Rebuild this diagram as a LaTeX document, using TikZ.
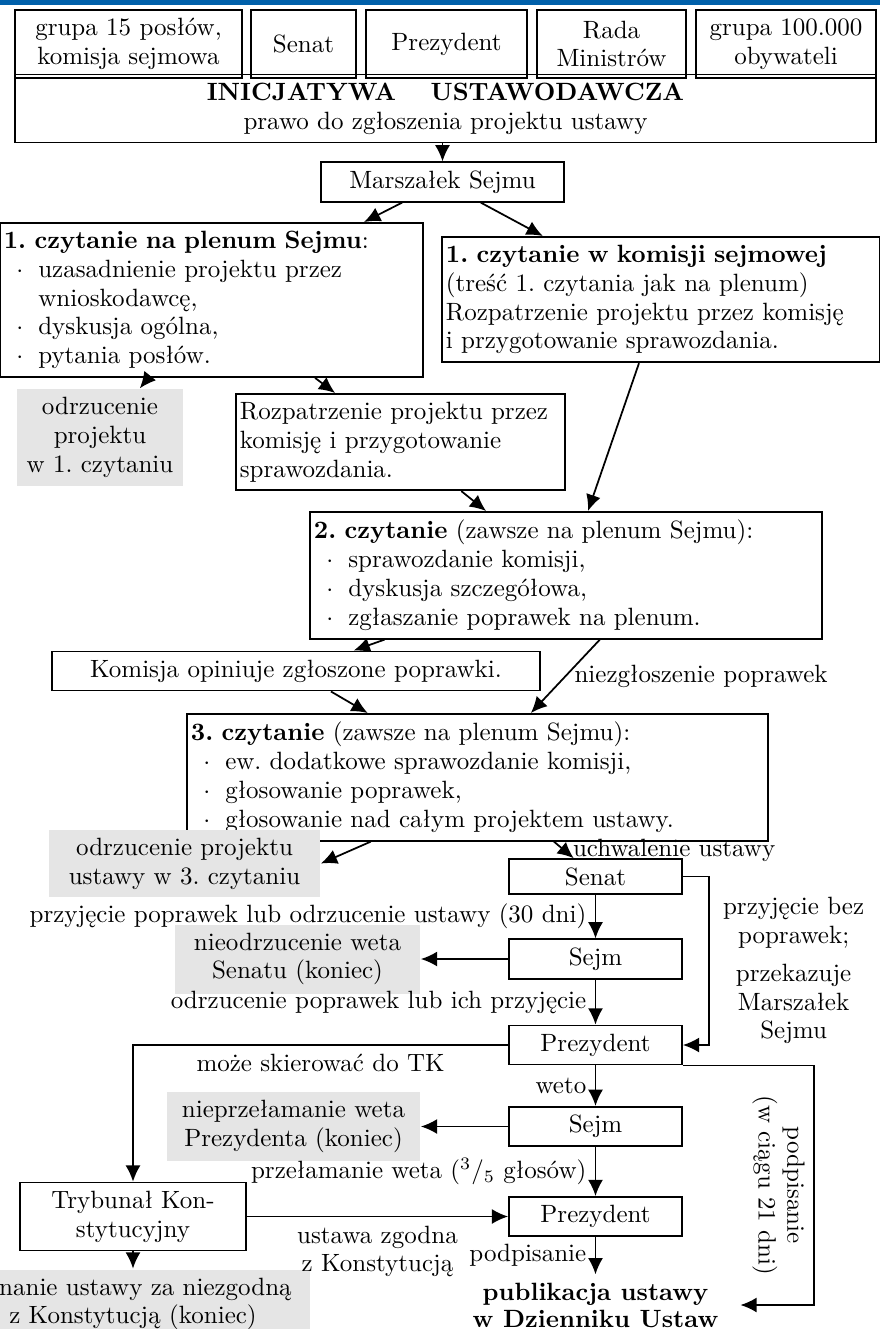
\documentclass[tikz,border=0pt]{standalone}
\usepackage{tikz}
\usetikzlibrary{positioning,%
  arrows.meta,%
  calc%
}
\definecolor{pasek}{RGB}{0,96,170}
\newcommand{\pu}{*0.4pt}
\newcommand{\pkt}{\hspace*{5pt}$\cdot$\hspace{6pt}}
\newcommand{\wc}{\hspace*{13.8pt}}
\frenchspacing

\begin{document}
\begin{tikzpicture}
                    [x=0.4pt, y=-0.4pt,
                    font=\fontsize{10}{11.5}\selectfont,
                    blk/.style={rectangle,
                        draw, align=center,
                        minimum height=29\pu},
                    lst/.style={rectangle,
                        draw, align=left,
                        anchor=north west,
                        inner xsep=1.6pt},
                    fin/.style={rectangle,
                        fill=gray!20, align=center},
                    line width=.7pt, >={Latex[length=6.5pt,width=6pt]}]

                    \useasboundingbox (0,0) rectangle (880,1329);
                    \fill[pasek] (0,0) rectangle (880,5);

                    \node[blk, minimum width=227\pu, minimum height=68\pu] (g15)
                        at (128.5,44) {grupa 15 posłów,\\komisja sejmowa};
                    \node[blk, minimum width=105\pu, minimum height=68\pu] (sen0)
                        at (303.5,44) {Senat};
                    \node[blk, minimum width=161\pu, minimum height=68\pu] (prez0)
                        at (446.5,44) {Prezydent};
                    \node[blk, minimum width=149\pu, minimum height=68\pu] (rada)
                        at (611.5,44) {Rada\\Ministrów};
                    \node[blk, minimum width=180\pu, minimum height=68\pu] (g100)
                        at (786,44) {grupa 100.000\\obywateli};
                    \node[blk, minimum width=861\pu, minimum height=61\pu] (inic)
                        at (445.5,108.5) {\textbf{INICJATYWA\quad\ USTAWODAWCZA}\\prawo do zgłoszenia projektu ustawy};
                    \node[blk, minimum width=243\pu, minimum height=30\pu] (marsz)
                        at (442.5,182) {Marszałek Sejmu};

                    \node[lst, text width=166pt, minimum height=146\pu] (plen)
                        at (-1,222) {\textbf{1. czytanie na plenum Sejmu}:\\
                        \pkt uzasadnienie projektu przez\\
                        \wc wnioskodawcę,\\
                        \pkt dyskusja ogólna,\\
                        \pkt pytania posłów.};
                    \node[lst, text width=172pt, minimum height=118\pu] (kom)
                        at (441,236) {\textbf{1. czytanie w komisji sejmowej}\\
                        (treść 1. czytania jak na plenum)\\
                        Rozpatrzenie projektu przez komisję\\
                        i przygotowanie sprawozdania.};
                    \node[fin, minimum width=166\pu, minimum height=89\pu] (odrz1)
                        at (100,437.5) {odrzucenie\\projektu\\w 1. czytaniu};
                    \node[lst, text width=128.4pt, minimum height=90\pu] (rozp)
                        at (235,393) {Rozpatrzenie projektu przez\\
                        komisję i przygotowanie\\
                        sprawozdania.};
                    \node[lst, text width=201.6pt, minimum height=119\pu] (czyt2)
                        at (309,511) {\textbf{2. czytanie} (zawsze na plenum Sejmu):\\
                        \pkt sprawozdanie komisji,\\
                        \pkt dyskusja szczegółowa,\\
                        \pkt zgłaszanie poprawek na plenum.};
                    \node[blk, minimum width=488\pu, minimum height=30\pu] (komop)
                        at (296,671) {Komisja opiniuje zgłoszone poprawki.};
                    \node[lst, text width=229.2pt, minimum height=119\pu] (czyt3)
                        at (186,713) {\textbf{3. czytanie} (zawsze na plenum Sejmu):\\
                        \pkt ew. dodatkowe sprawozdanie komisji,\\
                        \pkt głosowanie poprawek,\\
                        \pkt głosowanie nad całym projektem ustawy.};
                    \node[fin, minimum width=271\pu, minimum height=57\pu] (odrz3)
                        at (184.5,863.5) {odrzucenie projektu\\ustawy w 3. czytaniu};

                    \node[blk, minimum width=173\pu] (senat)
                        at (595.5,876.5) {Senat};
                    \node[blk, minimum width=173\pu] (sejm1)
                        at (595.5,959) {Sejm};
                    \node[fin, minimum width=245\pu, minimum height=58\pu] (nieodrz)
                        at (297.5,959) {nieodrzucenie weta\\Senatu (koniec)};
                    \node[blk, minimum width=173\pu] (prez1)
                        at (595.5,1045) {Prezydent};
                    \node[blk, minimum width=173\pu] (sejm2)
                        at (595.5,1126.5) {Sejm};
                    \node[fin, minimum width=253\pu, minimum height=59\pu] (nieprz)
                        at (293.5,1126.5) {nieprzełamanie weta\\Prezydenta (koniec)};
                    \node[blk, minimum width=173\pu] (prez2)
                        at (595.5,1216.5) {Prezydent};
                    \node[blk, minimum width=226\pu, minimum height=59\pu] (tk)
                        at (133,1216.5) {Trybunał Kon-\\stytucyjny};
                    \node[fin, minimum width=354\pu, minimum height=62\pu] (uzn)
                        at (133,1304) {uznanie ustawy za niezgodną\\z Konstytucją (koniec)};
                    \node[font=\fontsize{10}{10.8}\selectfont\bfseries, align=center,
                        inner xsep=8.5pt, inner ysep=3pt] (publ)
                        at (595.5,1305) {publikacja ustawy\\w Dzienniku Ustaw};

                    \path[->]
                        (inic.south -| marsz) edge (marsz)
                        (marsz) edge (plen)
                        (marsz) edge (kom)
                        (plen)  edge (odrz1)
                        (plen)  edge (rozp)
                        (rozp)  edge (czyt2)
                        (kom)   edge (czyt2)
                        (czyt2) edge (komop)
                        (komop) edge (czyt3)
                        (czyt3) edge node[right] {uchwalenie ustawy} (senat)
                        (senat) edge node[left] {przyjęcie poprawek lub odrzucenie ustawy (30 dni)} (sejm1)
                        (sejm1) edge (nieodrz)
                        (sejm1) edge node[left] {odrzucenie poprawek lub ich przyjęcie} (prez1)
                        (prez1) edge node[left] {weto} (sejm2)
                        (sejm2) edge (nieprz)
                        (sejm2) edge node[left] {przełamanie weta (\textsuperscript{3}/\textsubscript{5} głosów)} (prez2)
                        (tk)    edge node[below, align=center] {ustawa zgodna\\z Konstytucją} (prez2)
                        (tk)    edge (uzn)
                        (prez2) edge node[left] {podpisanie} (publ);

                    \draw[->]
                        ($(czyt2.south)+(34,0)$) -- node[right] {niezgłoszenie poprawek}
                        ($(czyt3.north)+(53.5,0)$);
                    \draw[->]
                        ($(czyt3.south)+(-106.5,0)$) -- (odrz3.east);
                    \draw[->]
                        (senat.east) -- ++(26,0)
                            |- node[right=2pt, pos=.28, align=center]
                            {przyjęcie bez\\poprawek;\\[3.6pt]przekazuje\\Marszałek\\Sejmu} (prez1.east);
                    \draw[->]
                        (prez1.west) -| node[below, pos=.25] {może skierować do TK} (tk.north);
                    \draw[->]
                        (prez1.south east) -- ++(131,0)
                            |- node[anchor=north, rotate=-90, pos=.25, align=center]
                            {podpisanie\\(w ciągu 21 dni)} (publ.east);
                \end{tikzpicture}
\end{document}
